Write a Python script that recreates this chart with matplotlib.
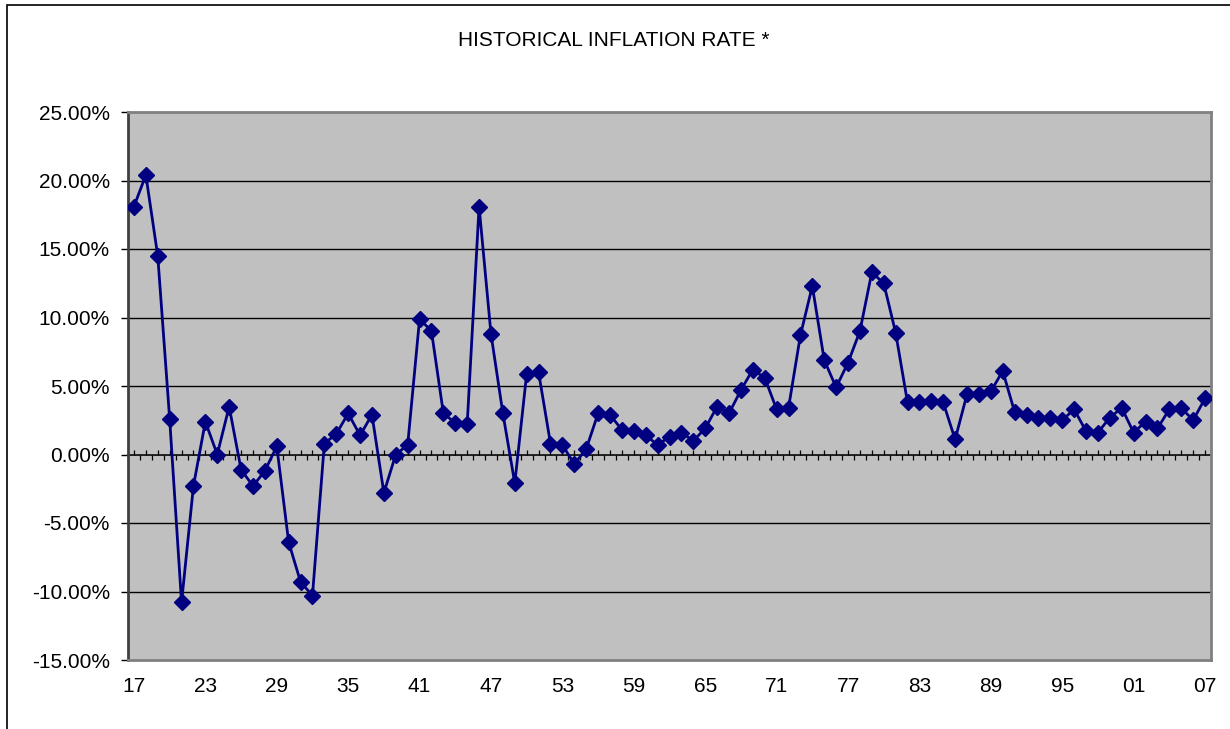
import numpy as np
import matplotlib
matplotlib.use("Agg")
import matplotlib.pyplot as plt
from matplotlib.patches import Rectangle
from matplotlib.ticker import FixedLocator

plt.rcParams['font.family'] = ['Liberation Sans', 'DejaVu Sans']

# annual inflation rate, %, 1917..2007
years = np.arange(1917, 2008)
inflation = [
    18.1, 20.4, 14.5, 2.6, -10.8, -2.3, 2.4, 0.0, 3.5, -1.1,
    -2.3, -1.2, 0.6, -6.4, -9.3, -10.3, 0.8, 1.5, 3.0, 1.4,
    2.9, -2.8, 0.0, 0.7, 9.9, 9.0, 3.0, 2.3, 2.2, 18.1,
    8.8, 3.0, -2.1, 5.9, 6.0, 0.8, 0.7, -0.7, 0.4, 3.0,
    2.9, 1.8, 1.7, 1.4, 0.7, 1.3, 1.6, 1.0, 1.9, 3.5,
    3.0, 4.7, 6.2, 5.6, 3.3, 3.4, 8.7, 12.3, 6.9, 4.9,
    6.7, 9.0, 13.3, 12.5, 8.9, 3.8, 3.8, 3.9, 3.8, 1.1,
    4.4, 4.4, 4.6, 6.1, 3.1, 2.9, 2.7, 2.7, 2.5, 3.3,
    1.7, 1.6, 2.7, 3.4, 1.6, 2.4, 1.9, 3.3, 3.4, 2.5,
    4.1,
]
label_years = years[::6]
tick_labels = [f"{y % 100:02d}" for y in label_years]
y_ticks = [25, 20, 15, 10, 5, 0, -5, -10, -15]

fig = plt.figure(figsize=(12.3, 7.29), dpi=100)
# chart frame (cut off at right/bottom)
fig.patches.append(Rectangle((7 / 1230, -0.1), 1.2, 1.1 - 5 / 729,
                             transform=fig.transFigure, fill=False,
                             edgecolor='black', linewidth=1.2))

ax = fig.add_axes([128 / 1230, 1 - 660 / 729, (1211 - 128) / 1230, (660 - 112) / 729])
ax.set_facecolor('#c0c0c0')

ax.plot(years, inflation, color='#000080', linewidth=2, marker='D',
        markersize=8.5, markeredgewidth=1, markeredgecolor='#000080',
        markerfacecolor='#000080', zorder=5)

ax.set_xlim(years[0] - 0.5, years[-1] + 0.5)
ax.set_ylim(-15, 25)

ax.set_yticks(y_ticks)
ax.set_yticklabels([f"{v:.2f}%" for v in y_ticks], fontsize=15)
ax.tick_params(axis='y', direction='out', length=5, width=1, color='black', pad=8)

ax.set_xticks(label_years)
ax.set_xticklabels(tick_labels, fontsize=15)
ax.tick_params(axis='x', length=0, pad=12)

for v in y_ticks:
    if v not in (25, -15, 0):
        ax.axhline(v, color='black', linewidth=1, zorder=1)

for side in ['top', 'right', 'bottom']:
    ax.spines[side].set_color('#808080')
    ax.spines[side].set_linewidth(2)
ax.spines['left'].set_color('#404040')
ax.spines['left'].set_linewidth(2)

# category axis crossing at zero
zero_frac = (0 - (-15)) / 40
sec = ax.secondary_xaxis(zero_frac)
sec.spines['bottom'].set_color('black')
sec.spines['bottom'].set_linewidth(1.2)
sec.xaxis.set_major_locator(FixedLocator(years))
sec.xaxis.set_minor_locator(FixedLocator(years[:-1] + 0.5))
sec.tick_params(which='major', direction='in', length=3.8, width=0.9, labelbottom=False)
sec.tick_params(which='minor', direction='out', length=3.8, width=0.9)
sec.set_xticklabels([])

fig.text(614 / 1230, 1 - 40 / 729, "HISTORICAL INFLATION RATE *", ha='center',
         va='center', fontsize=15)

fig.savefig("out.png", dpi=100)
